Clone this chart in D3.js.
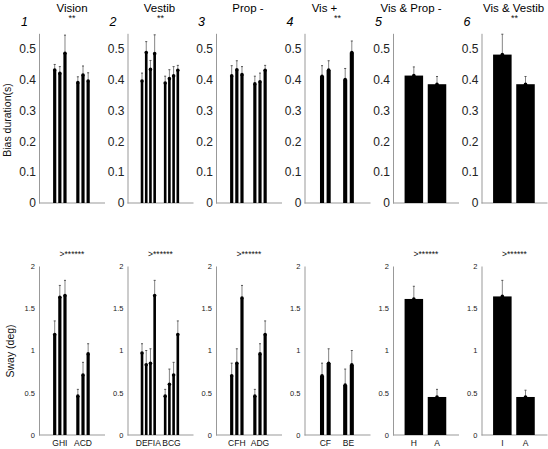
<!DOCTYPE html>
<html>
<head>
<meta charset="utf-8">
<script src="https://cdn.jsdelivr.net/npm/d3@7"></script>
<style>
  html, body { margin: 0; padding: 0; background: #fff; }
  svg { display: block; font-family: "Liberation Sans", Arial, sans-serif; }
</style>
</head>
<body>
<svg id="chart" width="548" height="449"></svg>
<script>
// ---------------- data ----------------
const panelTitles  = ["Vision", "Vestib", "Prop -", "Vis +", "Vis & Prop -", "Vis & Vestib"];
const panelNumbers = ["1", "2", "3", "4", "5", "6"];
const topStars     = ["**", "**", "", "**", "", "**"];
const bottomStars  = [">******", ">******", ">******", "", ">******", ">******"];
const groupLabels  = [["GHI", "ACD"], ["DEFIA", "BCG"], ["CFH", "ADG"], ["CF", "BE"], ["H", "A"], ["I", "A"]];

// Bias duration (s): [panel][group][bar]
const biasMean = [
  [[0.431, 0.420, 0.485], [0.390, 0.415, 0.395]],
  [[0.395, 0.488, 0.433, 0.484], [0.389, 0.403, 0.412, 0.430]],
  [[0.412, 0.432, 0.416], [0.386, 0.393, 0.430]],
  [[0.411, 0.431], [0.400, 0.488]],
  [[0.413], [0.385]],
  [[0.481], [0.385]]
];
const biasErr = [
  [[0.449, 0.442, 0.544], [0.409, 0.444, 0.422]],
  [[0.421, 0.523, 0.462, 0.545], [0.411, 0.432, 0.442, 0.446]],
  [[0.445, 0.461, 0.442], [0.411, 0.421, 0.446]],
  [[0.445, 0.461], [0.436, 0.525]],
  [[0.441], [0.410]],
  [[0.547], [0.410]]
];
const biasTicks = [0, 0.1, 0.2, 0.3, 0.4, 0.5];

// Sway (deg): [panel][group][bar]
const swayMean = [
  [[1.19, 1.63, 1.65], [0.46, 0.71, 0.96]],
  [[0.97, 0.83, 0.85, 1.65], [0.46, 0.60, 0.71, 1.19]],
  [[0.70, 0.85, 1.62], [0.46, 0.96, 1.19]],
  [[0.70, 0.85], [0.59, 0.83]],
  [[1.61], [0.45]],
  [[1.64], [0.45]]
];
const swayErr = [
  [[1.35, 1.77, 1.83], [0.54, 0.86, 1.08]],
  [[1.08, 1.00, 1.02, 1.83], [0.54, 0.78, 0.86, 1.35]],
  [[0.85, 1.02, 1.77], [0.54, 1.08, 1.35]],
  [[0.85, 1.02], [0.78, 1.00]],
  [[1.76], [0.54]],
  [[1.83], [0.53]]
];
const swayTicks = [0, 0.5, 1, 1.5, 2];

// ---------------- layout ----------------
const svg = d3.select("#chart");
const panelLeft0 = 39, panelStep = 88.5, panelW = 66;
const titleShift = [0, -1, -1, -13, -15, -1];

const rows = [
  { mean: biasMean, err: biasErr, ticks: biasTicks, domain: [0, 0.55], range: [203, 33.3],
    tickFont: 12, tickGap: 3, label: "Bias duration(s)", labelX: 10.5, labelY: 120, stars: topStars, starY: 21, starFont: 9 },
  { mean: swayMean, err: swayErr, ticks: swayTicks, domain: [0, 2], range: [435, 266],
    tickFont: 7.5, tickGap: 4, label: "Sway (deg)", labelX: 14, labelY: 351, stars: bottomStars, starY: 257, starFont: 8.5 }
];

rows.forEach((row, ri) => {
  const y = d3.scaleLinear().domain(row.domain).range(row.range);

  // y label
  svg.append("text")
    .attr("transform", `translate(${row.labelX},${row.labelY}) rotate(-90)`)
    .attr("text-anchor", "middle")
    .attr("font-size", 10.5)
    .attr("fill", "#111")
    .text(row.label);

  row.mean.forEach((groups, pi) => {
    const left = panelLeft0 + pi * panelStep;
    const x = d3.scaleLinear().domain([0.1, 2.95]).range([left, left + panelW]);
    const g = svg.append("g");

    // y axis
    const yAxis = d3.axisLeft(y).tickValues(row.ticks).tickSize(0).tickPadding(row.tickGap)
      .tickFormat(d3.format("~g"));
    const ag = g.append("g").attr("transform", `translate(${left},0)`).call(yAxis);
    ag.select(".domain").attr("stroke", "#999").attr("stroke-width", 1);
    ag.selectAll("text").attr("font-size", row.tickFont).attr("fill", "#222")
      .attr("font-family", "'Liberation Sans', Arial, sans-serif");

    // baseline
    g.append("line")
      .attr("x1", left).attr("x2", left + panelW)
      .attr("y1", y(0)).attr("y2", y(0))
      .attr("stroke", "#999").attr("stroke-width", 1);

    // bars
    groups.forEach((vals, gi) => {
      const n = vals.length;
      let spacing, bw;
      if (n === 1) { spacing = 0; bw = 0.8; }
      else { spacing = Math.min(0.8, n / (n + 1.5)) / n; bw = spacing * 0.62; }
      vals.forEach((v, bi) => {
        const cx = (gi + 1) + (bi - (n - 1) / 2) * spacing;
        const x0 = x(cx - bw / 2), x1 = x(cx + bw / 2);
        g.append("rect")
          .attr("x", x0).attr("width", x1 - x0)
          .attr("y", y(v)).attr("height", y(0) - y(v))
          .attr("fill", "#000");
        const e = row.err[pi][gi][bi];
        const px = x(cx);
        g.append("line")
          .attr("x1", px).attr("x2", px).attr("y1", y(v)).attr("y2", y(e))
          .attr("stroke", "#777").attr("stroke-width", 0.9);
        g.append("line")
          .attr("x1", px - 1).attr("x2", px + 1).attr("y1", y(e)).attr("y2", y(e))
          .attr("stroke", "#555").attr("stroke-width", 1);
        g.append("circle")
          .attr("cx", px).attr("cy", y(v)).attr("r", 1.8).attr("fill", "#000");
      });
      if (ri === 1) {
        g.append("text")
          .attr("x", x(gi + 1)).attr("y", 446)
          .attr("text-anchor", "middle")
          .attr("font-size", 8.5).attr("fill", "#111")
          .text(groupLabels[pi][gi]);
      }
    });

    // stars
    if (row.stars[pi]) {
      g.append("text")
        .attr("x", left + panelW / 2).attr("y", row.starY)
        .attr("text-anchor", "middle")
        .attr("font-size", row.starFont).attr("fill", "#111")
        .text(row.stars[pi]);
    }

    if (ri === 0) {
      // title
      g.append("text")
        .attr("x", left + panelW / 2 + titleShift[pi]).attr("y", 12)
        .attr("text-anchor", "middle")
        .attr("font-size", 11.5).attr("fill", "#000")
        .text(panelTitles[pi]);
      // panel number
      g.append("text")
        .attr("x", left - 11).attr("y", 26)
        .attr("text-anchor", "end")
        .attr("font-size", 12.5).attr("font-style", "italic").attr("fill", "#000")
        .text(panelNumbers[pi]);
    }
  });
});
</script>
</body>
</html>
